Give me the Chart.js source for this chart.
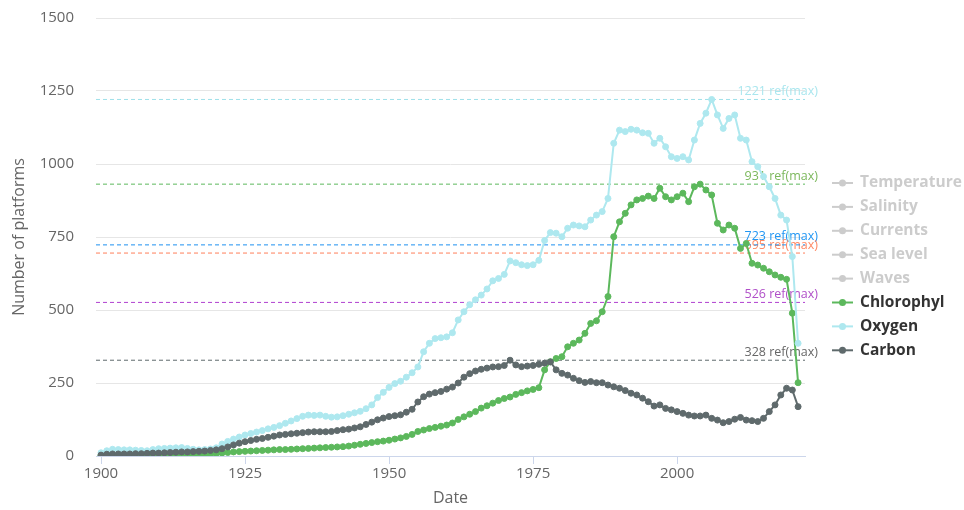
<!DOCTYPE html>
<html>
<head>
<meta charset="utf-8">
<title>Number of platforms</title>
<script src="https://cdn.jsdelivr.net/npm/chart.js@4.4.1/dist/chart.umd.min.js"></script>
<style>
  html, body { margin: 0; padding: 0; background: #ffffff; }
  #wrap { position: relative; width: 964px; height: 510px; }
</style>
</head>
<body>
<div id="wrap"><canvas id="platformChart"></canvas></div>
<script>
/* ==================================================================
   PLATFORMS PER YEAR (Chlorophyl / Oxygen / Carbon)
   ================================================================== */

// --- Data ---
const years = [];
for (let y = 1900; y <= 2021; y++) years.push(y);

const chlorophyl = [
    2, 2, 2, 3, 3, 3, 3, 3, 3, 3,
    3, 3, 4, 4, 4, 4, 4, 5, 5, 6,
    8, 10, 12, 14, 15, 16, 17, 18, 19, 20,
    21, 22, 22, 23, 24, 25, 26, 27, 28, 29,
    30, 31, 32, 34, 37, 40, 43, 46, 49, 51,
    54, 58, 62, 67, 74, 84, 89, 94, 98, 102,
    106, 113, 125, 134, 143, 152, 164, 172, 181, 190,
    197, 202, 211, 217, 223, 228, 234, 295, 323, 334,
    340, 374, 386, 397, 420, 454, 463, 494, 546, 751,
    802, 831, 860, 877, 882, 890, 882, 917, 888, 877,
    888, 900, 871, 922, 931, 911, 894, 797, 774, 791,
    780, 711, 728, 660, 654, 643, 631, 620, 612, 605,
    489, 251
];

const oxygen = [
    11, 18, 23, 22, 21, 21, 20, 19, 18, 22,
    25, 26, 27, 28, 29, 26, 23, 21, 22, 24,
    28, 41, 50, 58, 65, 72, 77, 82, 87, 93,
    98, 104, 112, 120, 128, 136, 140, 139, 140, 136,
    133, 134, 138, 143, 148, 153, 162, 175, 200, 218,
    235, 248, 256, 270, 285, 305, 357, 386, 402, 405,
    408, 422, 466, 494, 518, 535, 551, 572, 600, 608,
    622, 668, 662, 655, 652, 655, 670, 738, 765, 763,
    751, 780, 791, 788, 785, 808, 825, 837, 882, 1071,
    1116, 1111, 1119, 1116, 1107, 1105, 1071, 1088, 1059, 1025,
    1019, 1025, 1014, 1082, 1139, 1174, 1221, 1168, 1122, 1156,
    1168, 1088, 1082, 1008, 991, 957, 922, 882, 825, 808,
    683, 386
];

const carbon = [
    3, 6, 7, 7, 7, 7, 8, 8, 9, 10,
    10, 11, 12, 13, 14, 14, 15, 16, 17, 19,
    21, 25, 31, 38, 44, 49, 53, 57, 60, 64,
    68, 72, 74, 76, 78, 80, 82, 83, 83, 83,
    84, 87, 90, 92, 96, 100, 108, 116, 124, 130,
    135, 138, 141, 150, 160, 185, 203, 212, 217, 221,
    229, 236, 250, 270, 282, 291, 297, 301, 305, 306,
    310, 328, 312, 306, 308, 310, 314, 318, 322, 295,
    283, 277, 266, 258, 252, 255, 251, 251, 243, 237,
    232, 224, 215, 209, 198, 186, 171, 175, 163, 158,
    152, 146, 140, 137, 137, 140, 129, 123, 114, 118,
    126, 132, 123, 121, 118, 129, 152, 175, 209, 232,
    226, 169
];

// hidden series (only shown greyed in the legend)
const hiddenNames = ["Temperature", "Salinity", "Currents", "Sea level", "Waves"];

// reference (max) lines
const refValues = [1221, 931, 723, 695, 526, 328];
const refColors = ["#9ee0ea", "#5cb85c", "#1e90f0", "#ff7f5a", "#b040d0", "#5f6a6c"];
const refLabelColors = ["#a9e6ee", "#7cb85c", "#2196f3", "#ff8a65", "#b04fc8", "#666666"];

// x axis range (years) and ticks
const xMin = 1899.13;
const xMax = 2022.2;
const xTicks = [1900, 1925, 1950, 1975, 2000];
const yTicks = [0, 250, 500, 750, 1000, 1250, 1500];

// --- Helpers ---
function toPoints(values) {
    return values.map((v, i) => ({ x: years[i], y: v }));
}

function lineSeries(label, values, color, order) {
    return {
        label: label,
        data: toPoints(values),
        borderColor: color,
        backgroundColor: color,
        pointBackgroundColor: color,
        pointBorderColor: color,
        borderWidth: 2,
        pointRadius: 3,
        pointBorderWidth: 1,
        tension: 0,
        order: order
    };
}

const datasets = hiddenNames.map(name => ({
    label: name, data: [], hidden: true, borderColor: "#cccccc", order: 9
}));
datasets.push(lineSeries("Chlorophyl", chlorophyl, "#5cb85c", 3));
datasets.push(lineSeries("Oxygen", oxygen, "#aee8ef", 2));
datasets.push(lineSeries("Carbon", carbon, "#5f6a6c", 1));

// ref(max) lines: flat dashed lines across the whole x range
refValues.forEach((v, i) => {
    datasets.push({
        label: v + " ref(max)",
        isRef: true,
        data: [{ x: xMin, y: v }, { x: xMax, y: v }],
        borderColor: refColors[i],
        borderWidth: 1,
        borderDash: [4, 3],
        pointRadius: 0,
        order: 20
    });
});

// --- Plugins ---
// ref(max) labels, right aligned just past the plot, under the series
const refLabels = {
    id: "refLabels",
    beforeDatasetsDraw(chart) {
        const c = chart.ctx;
        const area = chart.chartArea;
        const yScale = chart.scales.y;
        c.save();
        c.font = '12.5px "Open Sans", sans-serif';
        c.textAlign = "right";
        c.textBaseline = "middle";
        refValues.forEach((v, i) => {
            const py = yScale.getPixelForValue(v);
            c.fillStyle = refLabelColors[i];
            c.fillText(v + " ref(max)", area.right + 13, py - 8);
        });
        c.restore();
    }
};

// legend on the right, hidden series greyed out
const sideLegend = {
    id: "sideLegend",
    afterDraw(chart) {
        const c = chart.ctx;
        const left = 832;
        const top = 183;
        const step = 23.9;
        c.save();
        c.font = 'bold 15.5px "Open Sans", sans-serif';
        c.textAlign = "left";
        c.textBaseline = "middle";
        chart.data.datasets.filter(ds => !ds.isRef).forEach((ds, i) => {
            const y = top + i * step;
            const color = ds.hidden ? "#cccccc" : ds.borderColor;
            c.strokeStyle = color;
            c.fillStyle = color;
            c.lineWidth = 2;
            c.beginPath();
            c.moveTo(left, y);
            c.lineTo(left + 21, y);
            c.stroke();
            c.beginPath();
            c.arc(left + 10.5, y, 3.5, 0, Math.PI * 2);
            c.fill();
            c.fillStyle = ds.hidden ? "#cccccc" : "#333333";
            c.fillText(ds.label, left + 28, y);
        });
        c.restore();
    }
};

// --- Chart ---
Chart.defaults.font.family = '"Open Sans", sans-serif';
Chart.defaults.color = "#666666";

const ctx = document.getElementById("platformChart").getContext("2d");
new Chart(ctx, {
    type: "line",
    data: { datasets: datasets },
    options: {
        responsive: true,
        maintainAspectRatio: false,
        animation: false,
        layout: { padding: { top: 18, right: 159, bottom: 0, left: 0 } },
        plugins: {
            legend: { display: false },
            tooltip: { enabled: false }
        },
        scales: {
            x: {
                type: "linear",
                min: xMin,
                max: xMax,
                afterBuildTicks: scale => { scale.ticks = xTicks.map(v => ({ value: v })); },
                afterFit: scale => { scale.height = 54; },
                grid: { drawOnChartArea: false, drawTicks: true, tickLength: 8, color: "#ccd6eb" },
                border: { display: true, color: "#ccd6eb", width: 1 },
                ticks: { font: { size: 15 }, color: "#666666", padding: 1, maxRotation: 0, callback: v => String(v) },
                title: { display: true, text: "Date", font: { size: 16 }, color: "#666666", padding: { top: 0, bottom: 2 } }
            },
            y: {
                min: 0,
                max: 1500,
                afterBuildTicks: scale => { scale.ticks = yTicks.map(v => ({ value: v })); },
                afterFit: scale => { scale.width = 96; },
                grid: { color: "#e6e6e6", drawTicks: true, tickLength: 22, tickColor: "rgba(0,0,0,0)" },
                border: { display: false },
                ticks: { font: { size: 15 }, color: "#666666", padding: 0, callback: v => String(v) },
                title: { display: true, text: "Number of platforms", font: { size: 16 }, color: "#666666", padding: { top: 10, bottom: 0 } }
            }
        }
    },
    plugins: [refLabels, sideLegend]
});
</script>
</body>
</html>
